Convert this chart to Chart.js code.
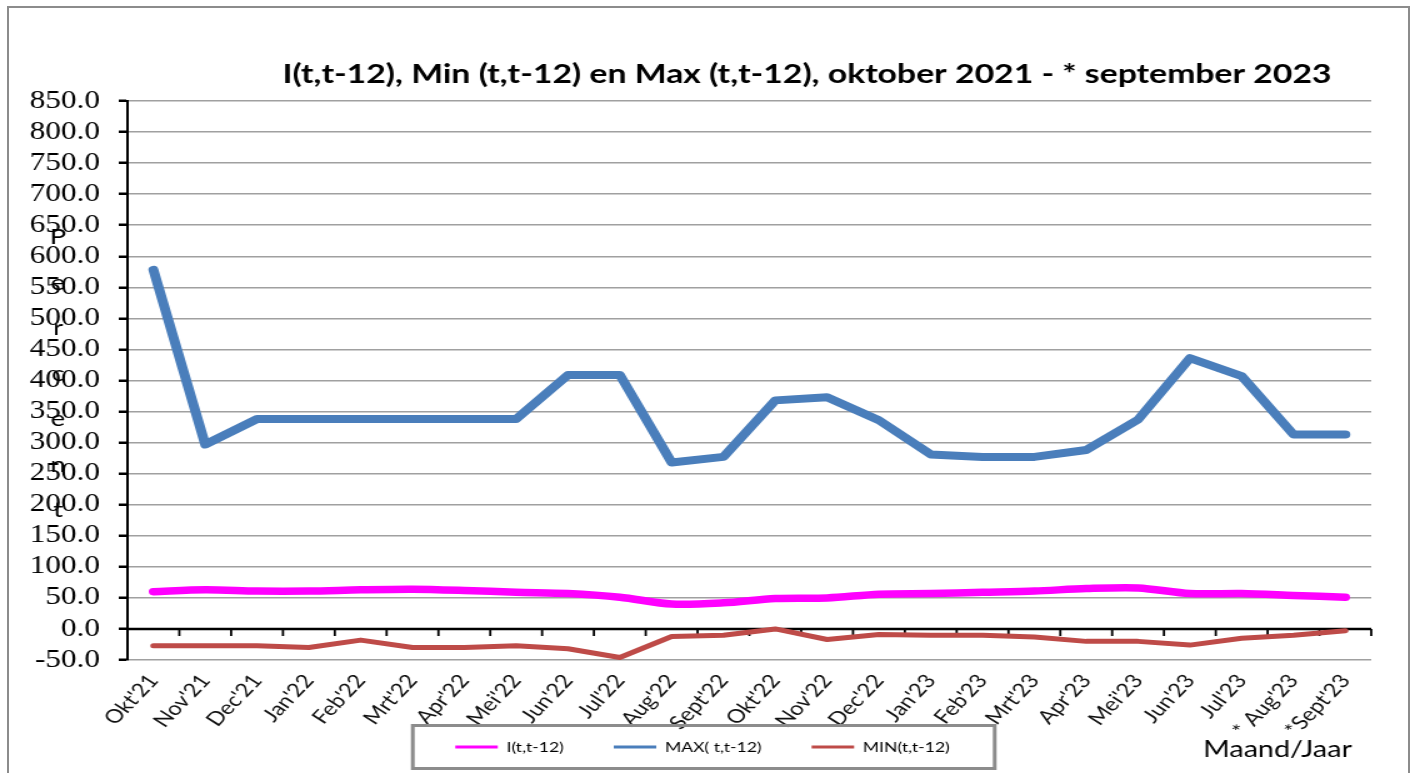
<!DOCTYPE html>
<html>
<head>
<meta charset="utf-8">
<script src="https://cdn.jsdelivr.net/npm/chart.js@4.4.1/dist/chart.umd.min.js"></script>
<style>
    html, body { margin: 0; padding: 0; overflow: hidden; background: #fff; }
    .frame {
        position: absolute; left: 7px; top: 6px; width: 1399px; height: 820px;
        border: 2px solid #8c8c8c;
    }
    /* the reference is a horizontally stretched export, so stretch the same way */
    #chart { position: absolute; left: 0; top: 0; transform: scaleX(1.25); transform-origin: 0 0; }
</style>
</head>
<body>
<div class="frame"></div>
<canvas id="chart" width="1130" height="794"></canvas>
<script>
// Data
const months = ["Okt'21", "Nov'21", "Dec'21", "Jan'22", "Feb'22", "Mrt'22", "Apr'22", "Mei'22",
    "Jun'22", "Jul'22", "Aug'22", "Sept'22", "Okt'22", "Nov'22", "Dec'22", "Jan'23", "Feb'23",
    "Mrt'23", "Apr'23", "Mei'23", "Jun'23", "Jul'23", "* Aug'23", "*Sept'23"];
const iValues = [60, 63, 61, 61, 63, 64, 62, 59, 57, 51, 40, 42, 49, 50, 56, 57, 59, 61, 65, 66, 57, 57, 54, 51];
const maxValues = [578, 297, 338, 338, 338, 338, 338, 338, 409, 409, 268, 277, 368, 373, 336, 281, 277, 277, 288, 337, 436, 407, 313, 313];
const minValues = [-27, -27, -27, -30, -18, -30, -30, -27, -32, -46, -12, -10, 0, -17, -9, -10, -10, -13, -20, -20, -26, -15, -10, -3];
const yTicks = [-50, 0, 50, 100, 150, 200, 250, 300, 350, 400, 450, 500, 550, 600, 650, 700, 750, 800, 850];
const legendNames = ['I(t,t-12)', 'MAX( t,t-12)', 'MIN(t,t-12)'];

const chartTitle = 'I(t,t-12), Min (t,t-12) en Max (t,t-12), oktober 2021 - * september 2023';
const yTitle = 'Percent';
const xTitle = 'Maand/Jaar';

Chart.defaults.font.family = "Lato";
Chart.defaults.color = '#000';

// Excel style: the category axis crosses at zero, with tick marks between categories
const zeroAxis = {
    id: 'zeroAxis',
    beforeDatasetsDraw(chart) {
        const { ctx, chartArea, scales: { x, y } } = chart;
        const y0 = y.getPixelForValue(0);
        const step = x.getPixelForValue(1) - x.getPixelForValue(0);
        ctx.save();
        ctx.strokeStyle = '#000';
        ctx.lineWidth = 2.5;
        ctx.beginPath();
        ctx.moveTo(chartArea.left, y0);
        ctx.lineTo(chartArea.right, y0);
        ctx.stroke();
        ctx.lineWidth = 1.8;
        ctx.beginPath();
        for (let i = 0; i <= months.length; i++) {
            const px = x.getPixelForValue(0) - step / 2 + i * step;
            ctx.moveTo(px, y0);
            ctx.lineTo(px, y0 + 7);
        }
        ctx.stroke();
        ctx.restore();
    }
};

// legend sits in the same row as the x axis labels, so lift it a bit
const legendShift = {
    id: 'legendShift',
    afterLayout(chart) {
        const lg = chart.legend;
        lg.top -= 30; lg.bottom -= 30;
        lg.left += 3.5; lg.right += 3.5;
    }
};

// Title, stacked y title, x title and the box round the legend
const decorations = {
    id: 'decorations',
    afterDraw(chart) {
        const { ctx, legend } = chart;
        ctx.save();
        ctx.fillStyle = '#000';
        ctx.textAlign = 'center';
        ctx.textBaseline = 'middle';
        ctx.font = "bold 27px Lato";
        ctx.fillText(chartTitle, 645.6, 74);

        ctx.font = "22px Lato";
        yTitle.split('').forEach((ch, i) => {
            ctx.fillText(ch, 46.4, 237 + i * 45.5);
        });

        ctx.textAlign = 'right';
        ctx.font = "23px Lato";
        ctx.fillText(xTitle, 1081.6, 750);

        const boxes = legend.legendHitBoxes;
        if (boxes && boxes.length) {
            const first = boxes[0];
            const last = boxes[boxes.length - 1];
            const cy = first.top + first.height / 2;
            const l = first.left - 34;
            const r = last.left + last.width + 36;
            ctx.strokeStyle = '#8c8c8c';
            ctx.lineWidth = 3;
            ctx.strokeRect(l, cy - 21.5, r - l, 43);
        }
        ctx.restore();
    }
};

const ctx = document.getElementById('chart').getContext('2d');

new Chart(ctx, {
    type: 'line',
    data: {
        labels: months,
        datasets: [{
            label: legendNames[0],
            data: iValues,
            borderColor: '#ff00ff',
            backgroundColor: '#ff00ff',
            borderWidth: 7.5,
            tension: 0.3,
            pointRadius: 0,
            borderCapStyle: 'round',
            borderJoinStyle: 'round'
        }, {
            label: legendNames[1],
            data: maxValues,
            borderColor: '#4a7ebb',
            backgroundColor: '#4a7ebb',
            borderWidth: 8,
            tension: 0,
            pointRadius: 0,
            borderCapStyle: 'round',
            borderJoinStyle: 'round'
        }, {
            label: legendNames[2],
            data: minValues,
            borderColor: '#be4b48',
            backgroundColor: '#be4b48',
            borderWidth: 5,
            tension: 0,
            pointRadius: 0,
            borderCapStyle: 'round',
            borderJoinStyle: 'round'
        }]
    },
    options: {
        responsive: false,
        animation: false,
        events: [],
        layout: {
            padding: { top: 101, left: 20, right: 33, bottom: 0 }
        },
        plugins: {
            title: { display: false },
            tooltip: { enabled: false },
            legend: {
                position: 'bottom',
                labels: {
                    boxWidth: 34,
                    boxHeight: 3,
                    padding: 40,
                    color: '#000',
                    font: { size: 14 },
                    generateLabels(chart) {
                        return Chart.defaults.plugins.legend.labels.generateLabels(chart)
                            .map(item => ({ ...item, lineWidth: 0, fillStyle: item.strokeStyle }));
                    }
                }
            }
        },
        scales: {
            x: {
                offset: true,
                grid: { display: false },
                border: { display: false },
                ticks: {
                    minRotation: 52,
                    maxRotation: 52,
                    autoSkip: false,
                    padding: 2,
                    color: '#111',
                    font: { size: 19 }
                },
                afterFit(scale) { scale.height = 70; }
            },
            y: {
                min: -50,
                max: 850,
                afterBuildTicks(axis) {
                    axis.ticks = yTicks.map(v => ({ value: v }));
                },
                grid: {
                    color: '#a0a0a0',
                    lineWidth: 1.5,
                    tickColor: '#000',
                    tickLength: 7,
                    tickWidth: 2.5
                },
                border: { color: '#000', width: 2 },
                ticks: {
                    autoSkip: false,
                    padding: 15,
                    color: '#000',
                    font: () => ({ family: 'Liberation Serif', size: 25, style: 'normal', weight: 'normal', lineHeight: 1.2 }),
                    callback: v => Number(v).toFixed(1)
                },
                afterFit(scale) { scale.width = 82; }
            }
        }
    },
    plugins: [zeroAxis, legendShift, decorations]
});
</script>
</body>
</html>
